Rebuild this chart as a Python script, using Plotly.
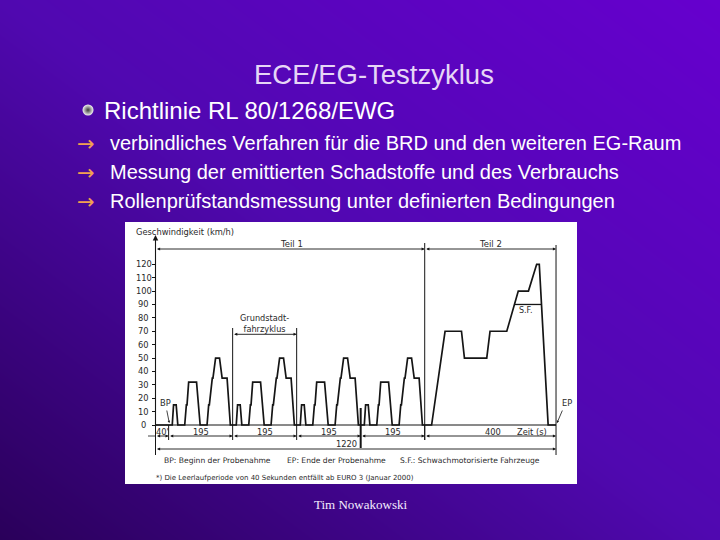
import plotly.graph_objects as go

W, H = 720, 540

# ------------------------------------------------------------------ data
# one urban cycle (ECE-15), seconds / km/h
ece_t = [0, 11, 15, 23, 28, 49, 54, 56, 61, 85, 96, 117, 122, 124, 133, 135, 143, 155, 163, 178, 188, 195]
ece_v = [0, 0, 15, 15, 0, 0, 15, 15, 32, 32, 0, 0, 15, 15, 35, 35, 50, 50, 35, 35, 0, 0]
# extra-urban part (Teil 2), seconds from its start / km/h
eudc_t = [0, 21, 62, 112, 121, 189, 199, 250, 285, 316, 341, 349, 376, 400]
eudc_v = [0, 0, 70, 70, 50, 50, 70, 70, 100, 100, 120, 120, 0, 0]
# low-powered vehicles (S.F.) limit
sf_t = [273, 356]
sf_v = [90, 90]

idle_s = 40
n_urban = 4
urban_len = 195
eudc_len = 400
total_len = 1220

y_ticks = [0, 10, 20, 30, 40, 50, 60, 70, 80, 90, 100, 110, 120]
y_tick_labels = [str(v) for v in y_ticks]
segment_labels = ["40'", "195", "195", "195", "195", "400"]

# ------------------------------------------------------------------ assemble profile
prof_t, prof_v = [0, idle_s], [0, 0]
for k in range(n_urban):
    off = idle_s + k * urban_len
    prof_t += [off + t for t in ece_t]
    prof_v += list(ece_v)
teil2 = idle_s + n_urban * urban_len
prof_t += [teil2 + t for t in eudc_t]
prof_v += list(eudc_v)
bounds = [0, idle_s] + [idle_s + (k + 1) * urban_len for k in range(n_urban)] + [teil2 + eudc_len]

# ------------------------------------------------------------------ geometry (pixel calibration)
X0, SX = 155.5, 0.3283      # px of t=0, px per second
Y0, SY = 425.0, 1.3392      # px of v=0, px per km/h
IMG_L, IMG_R, IMG_T, IMG_B = 125, 577, 222, 484


def tx(px):
    return (px - X0) / SX


def vy(py):
    return (Y0 - py) / SY


def P(px, py):
    return px / W, 1 - py / H


FONT = "Liberation Sans, Arial, sans-serif"
CFONT = "DejaVu Sans, Verdana, sans-serif"
INK = "#151515"
TXT = "#2a2a2a"

fig = go.Figure()

# background gradient (paper-wide subplot)
fig.add_trace(go.Heatmap(
    z=[[0, 0.5], [0.5, 1]], x=[0, 1], y=[0, 1], zsmooth="best", showscale=False,
    colorscale=[[0, "rgb(42,0,90)"], [0.5, "rgb(80,8,176)"], [1, "rgb(102,0,206)"]],
    hoverinfo="skip", xaxis="x", yaxis="y"))

# bullet sphere
bx, by = P(88, 110)
fig.add_trace(go.Scatter(
    x=[bx], y=[by], mode="markers", xaxis="x", yaxis="y", hoverinfo="skip",
    marker=dict(size=11, color="#f4f4f4", line=dict(width=0),
                gradient=dict(type="radial", color="#3a3a3a"))))

# white picture area
xr = [tx(IMG_L), tx(IMG_R)]
yr = [vy(IMG_B), vy(IMG_T)]
fig.add_trace(go.Scatter(
    x=[xr[0], xr[1], xr[1], xr[0], xr[0]], y=[yr[0], yr[0], yr[1], yr[1], yr[0]],
    mode="lines", fill="toself", fillcolor="white", line=dict(width=0),
    hoverinfo="skip", xaxis="x2", yaxis="y2"))

# driving profile
fig.add_trace(go.Scatter(
    x=prof_t, y=prof_v, mode="lines", line=dict(color=INK, width=1.7),
    hoverinfo="skip", xaxis="x2", yaxis="y2"))
# S.F. line
fig.add_trace(go.Scatter(
    x=[teil2 + t for t in sf_t], y=sf_v, mode="lines", line=dict(color=INK, width=1.3),
    hoverinfo="skip", xaxis="x2", yaxis="y2"))

shapes = []


def vline(t, py1, py2, w=1.0):
    shapes.append(dict(type="line", xref="x2", yref="y2", x0=t, x1=t, y0=vy(py1), y1=vy(py2),
                       line=dict(color=INK, width=w), layer="above"))


def hline(t1, t2, py, w=1.0):
    shapes.append(dict(type="line", xref="x2", yref="y2", x0=t1, x1=t2, y0=vy(py), y1=vy(py),
                       line=dict(color=INK, width=w), layer="above"))


# x axis line at v=0
hline(0, total_len, Y0, 1.0)
# boundary lines
vline(teil2, 243, 440)
vline(total_len, 245, 455)
vline(0, 425, 455)
vline(bounds[1], 425, 440)
vline(bounds[2], 328, 440)
vline(bounds[3], 328, 440)
vline(bounds[4], 408, 448, 2.0)
for b in bounds[5:6]:
    vline(b, 425, 440)
hline(tx(148), 0, 436, 0.8)

anns = []


def dim_arrow(t1, t2, py, both=True):
    anns.append(dict(x=t2, y=vy(py), ax=t1, ay=vy(py), xref="x2", yref="y2", axref="x2", ayref="y2",
                     text="", showarrow=True, arrowhead=2, startarrowhead=2,
                     arrowside="end+start" if both else "end",
                     arrowsize=0.7, startarrowsize=0.7, arrowwidth=0.9, arrowcolor=INK,
                     standoff=0, startstandoff=0))


# Teil 1 / Teil 2
dim_arrow(0, teil2, 249)
dim_arrow(teil2, total_len, 249)
# segment dimensions
for a, b in zip(bounds[:-1], bounds[1:]):
    dim_arrow(a, b, 436)
# total
dim_arrow(0, total_len, 449)
# Grundstadtfahrzyklus bracket
dim_arrow(bounds[2], bounds[3], 334.3)
# y axis with arrow
anns.append(dict(x=0, y=vy(235), ax=0, ay=vy(428), xref="x2", yref="y2", axref="x2", ayref="y2",
                 text="", showarrow=True, arrowhead=2, arrowsize=1.0, arrowwidth=1.1,
                 arrowcolor=INK, standoff=0))
# BP / EP pointers
anns.append(dict(x=tx(169.3), y=vy(423), ax=tx(166.5), ay=vy(409), xref="x2", yref="y2",
                 axref="x2", ayref="y2", text="", showarrow=True, arrowhead=2, arrowsize=0.6,
                 arrowwidth=0.8, arrowcolor=INK, standoff=0))
anns.append(dict(x=tx(557), y=vy(423), ax=tx(563), ay=vy(409), xref="x2", yref="y2",
                 axref="x2", ayref="y2", text="", showarrow=True, arrowhead=2, arrowsize=0.6,
                 arrowwidth=0.8, arrowcolor=INK, standoff=0))


def ctext(text, t, v, size=8.5, anchor="center", color=TXT):
    anns.append(dict(x=t, y=v, xref="x2", yref="y2", text=text, showarrow=False,
                     xanchor=anchor, yanchor="middle", borderpad=0,
                     font=dict(family=CFONT, size=size, color=color)))


# y tick labels (centered left of axis)
for val, lab in zip(y_ticks, y_tick_labels):
    ctext(lab, tx(143.5), val, 8.3)

ctext("Geschwindigkeit (km/h)", tx(134.5), vy(231.5), 8.3, "left")
ctext("Teil 1", tx(291.7), vy(243.5), 8.5)
ctext("Teil 2", tx(490), vy(243.5), 8.5)
ctext("Grundstadt-<br>fahrzyklus", (bounds[2] + bounds[3]) / 2, vy(323), 8.2)
ctext("S.F.", tx(525), vy(310), 8)
ctext("BP", tx(165.5), vy(403), 8.3)
ctext("EP", tx(567), vy(403), 8.3)
seg_x = [tx(162)] + [(a + b) / 2 for a, b in zip(bounds[1:5], bounds[2:6])] + [tx(493.3)]
for sx_, lab in zip(seg_x, segment_labels):
    ctext(lab, sx_, vy(431.5), 8.3)
ctext("Zeit (s)", tx(531.5), vy(431.5), 8.3)
ctext(str(total_len), tx(346.7), vy(443.5), 8.3)
ctext("BP: Beginn der Probenahme", tx(163), vy(460.5), 7.6, "left")
ctext("EP: Ende der Probenahme", tx(285.5), vy(460.5), 7.6, "left")
ctext("S.F.: Schwachmotorisierte Fahrzeuge", tx(399), vy(460.5), 7.6, "left")
ctext("*) Die Leerlaufperiode von 40 Sekunden entfällt ab EURO 3 (Januar 2000)",
      tx(155), vy(477.5), 7.0, "left")


# slide texts
def ptext(text, px, py, size, color="white", anchor="left", family=FONT):
    x, y = P(px, py)
    anns.append(dict(x=x, y=y, xref="paper", yref="paper", text=text, showarrow=False,
                     xanchor=anchor, yanchor="middle", font=dict(family=family, size=size, color=color)))


ptext("ECE/EG-Testzyklus", 374, 75, 27.5, "#e6d6f6", "center")
ptext("Richtlinie RL 80/1268/EWG", 102, 110, 24)
lines = ["verbindliches Verfahren für die BRD und den weiteren EG-Raum",
         "Messung der emittierten Schadstoffe und des Verbrauchs",
         "Rollenprüfstandsmessung unter definierten Bedingungen"]
for i, (ln, py) in enumerate(zip(lines, [143, 172, 201])):
    ptext("→", 75, py + 1, 21, "#f2a050", family="DejaVu Sans, sans-serif")
    ptext(ln, 108, py, 20)
ptext("Tim Nowakowski", 360, 504, 13, "#f4ecff", "center", "Liberation Serif, Times New Roman, serif")

fig.update_layout(
    width=W, height=H, margin=dict(l=0, r=0, t=0, b=0),
    paper_bgcolor="rgb(60,4,140)", plot_bgcolor="rgba(0,0,0,0)",
    showlegend=False, shapes=shapes, annotations=anns,
    xaxis=dict(domain=[0, 1], range=[0, 1], visible=False, fixedrange=True),
    yaxis=dict(domain=[0, 1], range=[0, 1], visible=False, fixedrange=True),
    xaxis2=dict(domain=[IMG_L / W, IMG_R / W], range=xr, visible=False, fixedrange=True, anchor="y2"),
    yaxis2=dict(domain=[1 - IMG_B / H, 1 - IMG_T / H], range=yr, anchor="free", position=X0 / W,
                showline=False, showgrid=False, zeroline=False, ticks="outside", ticklen=4,
                tickwidth=1, tickcolor=INK, tickvals=y_ticks, showticklabels=False, fixedrange=True),
)

fig.write_html("out.html", config={"displayModeBar": False},
               post_script="document.body.style.margin='0';document.body.style.overflow='hidden';")
